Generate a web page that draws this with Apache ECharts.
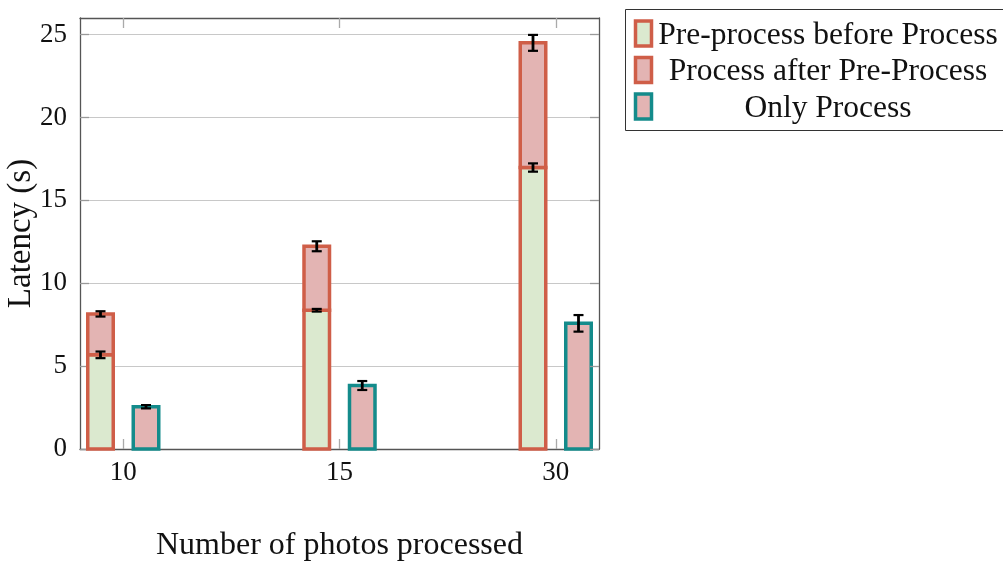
<!DOCTYPE html>
<html>
<head>
<meta charset="utf-8">
<script src="https://cdn.jsdelivr.net/npm/echarts@6/dist/echarts.min.js"></script>
<style>
html,body{margin:0;padding:0;background:#fff;}
#chart{width:1003px;height:561px;}
</style>
</head>
<body>
<div id="chart"></div>
<script>
// ---- data ----
var categories = ['10', '15', '30'];
var preProcess = [5.68, 8.37, 16.98];
var processAfter = [2.47, 3.86, 7.52];
var onlyProcess = [2.55, 3.83, 7.58];
var preErr = [0.2, 0.08, 0.25];
var afterErr = [0.16, 0.3, 0.48];
var onlyErr = [0.1, 0.27, 0.5];
var yTicks = [0, 5, 10, 15, 20, 25];
var seriesNames = ['Pre-process before Process', 'Process after Pre-Process', 'Only Process'];

var FONT = 'Liberation Serif';
var RED = '#cf5e48', GREEN = '#dbe9cf', PINK = '#e3b4b3', TEAL = '#148b8b';
var BAR_W = 25.5, OFFSET = 22.75, BORDER = 3.5;

var idx = categories.map(function (c, i) { return i; });

// [index, start, end]
var barPre = preProcess.map(function (v, i) { return [i, 0, v]; });
var barAfter = preProcess.map(function (v, i) { return [i, v, v + processAfter[i]]; });
var barOnly = onlyProcess.map(function (v, i) { return [i, 0, v]; });

var errPre = preProcess.map(function (v, i) { return [i, v, preErr[i]]; });
var errAfter = preProcess.map(function (v, i) { return [i, v + processAfter[i], afterErr[i]]; });
var errOnly = onlyProcess.map(function (v, i) { return [i, v, onlyErr[i]]; });

function barRender(shift, fill, stroke) {
  return function (params, api) {
    var x = api.value(0), y0 = api.value(1), y1 = api.value(2);
    var p0 = api.coord([x, y0]);
    var p1 = api.coord([x, y1]);
    var cx = p0[0] + shift;
    return {
      type: 'rect',
      shape: { x: cx - BAR_W / 2, y: p1[1], width: BAR_W, height: p0[1] - p1[1] },
      style: { fill: fill, stroke: stroke, lineWidth: BORDER }
    };
  };
}

function errRender(shift) {
  return function (params, api) {
    var x = api.value(0), y = api.value(1), e = api.value(2);
    var top = api.coord([x, y + e]);
    var bot = api.coord([x, y - e]);
    var cx = top[0] + shift;
    var cap = 5;
    var st = { stroke: '#000', lineWidth: 2.8 };
    var stc = { stroke: '#000', lineWidth: 2.2 };
    return {
      type: 'group',
      children: [
        { type: 'line', shape: { x1: cx, y1: top[1], x2: cx, y2: bot[1] }, style: st },
        { type: 'line', shape: { x1: cx - cap, y1: top[1], x2: cx + cap, y2: top[1] }, style: stc },
        { type: 'line', shape: { x1: cx - cap, y1: bot[1], x2: cx + cap, y2: bot[1] }, style: stc }
      ]
    };
  };
}

var legendX = 625, legendY = 9, rowH = 36.5, textCenter = 828;
var legendItems = [
  { name: seriesNames[0], fill: GREEN, stroke: RED },
  { name: seriesNames[1], fill: PINK, stroke: RED },
  { name: seriesNames[2], fill: PINK, stroke: TEAL }
];
var graphics = [{
  type: 'rect', left: legendX, top: legendY, z: 10,
  shape: { x: 0, y: 0, width: 420, height: 121 },
  style: { fill: '#fff', stroke: '#333', lineWidth: 1 }
}];
legendItems.forEach(function (it, i) {
  var cy = legendY + 25 + i * rowH;
  graphics.push({
    type: 'rect', z: 11,
    shape: { x: 635.5, y: cy - 13, width: 16, height: 25 },
    style: { fill: it.fill, stroke: it.stroke, lineWidth: 3.5 }
  });
  graphics.push({
    type: 'text', z: 11, x: textCenter, y: cy + 1.5,
    style: { text: it.name, font: '31.5px "' + FONT + '"', fill: '#111', align: 'center', verticalAlign: 'middle' }
  });
});

var chart = echarts.init(document.getElementById('chart'), null, { renderer: 'canvas' });
chart.setOption({
  animation: false,
  backgroundColor: '#fff',
  textStyle: { fontFamily: FONT },
  grid: { left: 80, right: 404, top: 18, bottom: 112, show: false, containLabel: false, outerBoundsMode: 'none' },
  xAxis: [{
    type: 'value', min: -0.2, max: 2.2, position: 'bottom',
    name: 'Number of photos processed', nameLocation: 'middle', nameGap: 81, nameMoveOverlap: false,
    nameTextStyle: { fontSize: 32, color: '#111', fontFamily: FONT },
    axisLine: { show: true, onZero: false, lineStyle: { color: '#555', width: 1.3 } },
    axisTick: { show: true, inside: true, length: 10, customValues: idx, lineStyle: { color: '#aaa', width: 1.3 } },
    axisLabel: { customValues: idx, margin: 10, fontSize: 27, color: '#111', fontFamily: FONT,
      formatter: function (v) { return categories[Math.round(v)]; } },
    splitLine: { show: false }
  }, {
    type: 'value', min: -0.2, max: 2.2, position: 'top', z: 5,
    axisLine: { show: true, onZero: false, lineStyle: { color: '#555', width: 1.3 } },
    axisTick: { show: true, inside: true, length: 10, customValues: idx, lineStyle: { color: '#aaa', width: 1.3 } },
    axisLabel: { show: false },
    splitLine: { show: false }
  }],
  yAxis: [{
    type: 'value', min: 0, max: 26, position: 'left',
    name: 'Latency (s)', nameLocation: 'middle', nameGap: 42, nameRotate: 90, nameMoveOverlap: false,
    nameTextStyle: { fontSize: 33, color: '#111', fontFamily: FONT },
    axisLine: { show: true, onZero: false, lineStyle: { color: '#555', width: 1.3 } },
    axisTick: { show: true, inside: true, length: 9, customValues: yTicks, lineStyle: { color: '#999', width: 1.3 } },
    axisLabel: { customValues: yTicks, margin: 13, fontSize: 27, color: '#111', fontFamily: FONT },
    splitLine: { show: true, lineStyle: { color: '#c8c8c8', width: 1.2 } }
  }, {
    type: 'value', min: 0, max: 26, position: 'right', z: 5,
    axisLine: { show: true, onZero: false, lineStyle: { color: '#555', width: 1.3 } },
    axisTick: { show: true, inside: true, length: 9, customValues: yTicks, lineStyle: { color: '#999', width: 1.3 } },
    axisLabel: { show: false },
    splitLine: { show: false }
  }],
  series: [{
    name: seriesNames[0], type: 'custom', renderItem: barRender(-OFFSET, GREEN, RED), data: barPre, z: 2,
    encode: { x: 0, y: [1, 2] }
  }, {
    name: seriesNames[1], type: 'custom', renderItem: barRender(-OFFSET, PINK, RED), data: barAfter, z: 2,
    encode: { x: 0, y: [1, 2] }
  }, {
    name: seriesNames[2], type: 'custom', renderItem: barRender(OFFSET, PINK, TEAL), data: barOnly, z: 2,
    encode: { x: 0, y: [1, 2] }
  }, {
    type: 'custom', renderItem: errRender(-OFFSET), data: errPre, z: 4, encode: { x: 0, y: 1 }
  }, {
    type: 'custom', renderItem: errRender(-OFFSET), data: errAfter, z: 4, encode: { x: 0, y: 1 }
  }, {
    type: 'custom', renderItem: errRender(OFFSET), data: errOnly, z: 4, encode: { x: 0, y: 1 }
  }],
  graphic: graphics
});
</script>
</body>
</html>
